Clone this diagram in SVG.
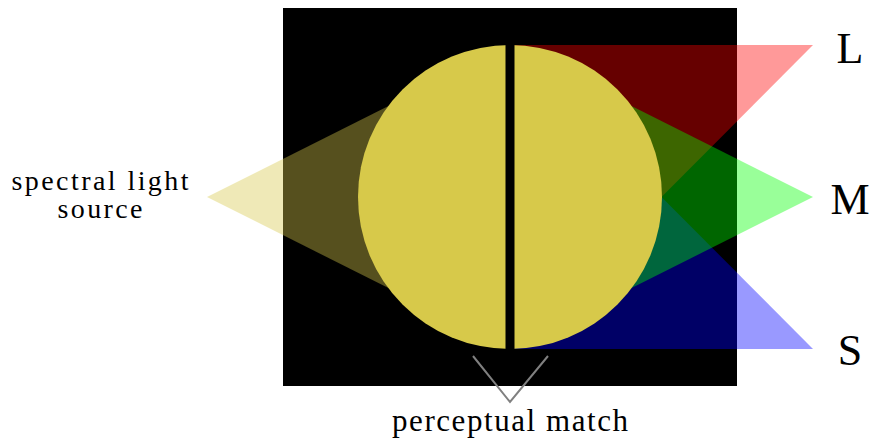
<svg xmlns="http://www.w3.org/2000/svg" width="871" height="439" viewBox="0 0 871 439">
<style>
.lbl{font-family:"Liberation Serif","Times New Roman",serif;fill:#000;text-anchor:middle}
.cone{stroke:none}
</style>
<rect width="871" height="439" fill="#fff"/>
<g id="background"><rect x="283" y="8" width="454" height="378" fill="#000"/></g>
<g id="source"><polygon class="cone" points="207,197 510,45 510,349" fill="#d7c94a" fill-opacity="0.4"/></g>
<g id="cone-L"><polygon class="cone" points="510,45 813,45 510,349" fill="#ff0000" fill-opacity="0.4"/></g>
<g id="cone-S"><polygon class="cone" points="510,349 813,349 510,45" fill="#0000ff" fill-opacity="0.4"/></g>
<g id="cone-M"><polygon class="cone" points="510,45 813,197 510,349" fill="#00ff00" fill-opacity="0.4"/></g>
<g id="field"><circle cx="510" cy="197" r="152" fill="#d7c94a"/><rect x="505.5" y="44" width="9" height="306" fill="#000"/></g>
<g id="connectors"><polyline points="473,356 510,402 548,356" fill="none" stroke="#808080" stroke-width="2"/></g>
<g id="label-source"><text class="lbl" x="100" y="190" font-size="28" textLength="177" lengthAdjust="spacing">spectral light</text><text class="lbl" x="100" y="218" font-size="28" textLength="85" lengthAdjust="spacing">source</text></g>
<g id="label-L"><text class="lbl" x="850" y="63" font-size="44">L</text></g>
<g id="label-M"><text class="lbl" x="850" y="214" font-size="44">M</text></g>
<g id="label-S"><text class="lbl" x="850" y="365" font-size="44">S</text></g>
<g id="label-match"><text class="lbl" x="510" y="431" font-size="31" textLength="236" lengthAdjust="spacing">perceptual match</text></g>
</svg>
